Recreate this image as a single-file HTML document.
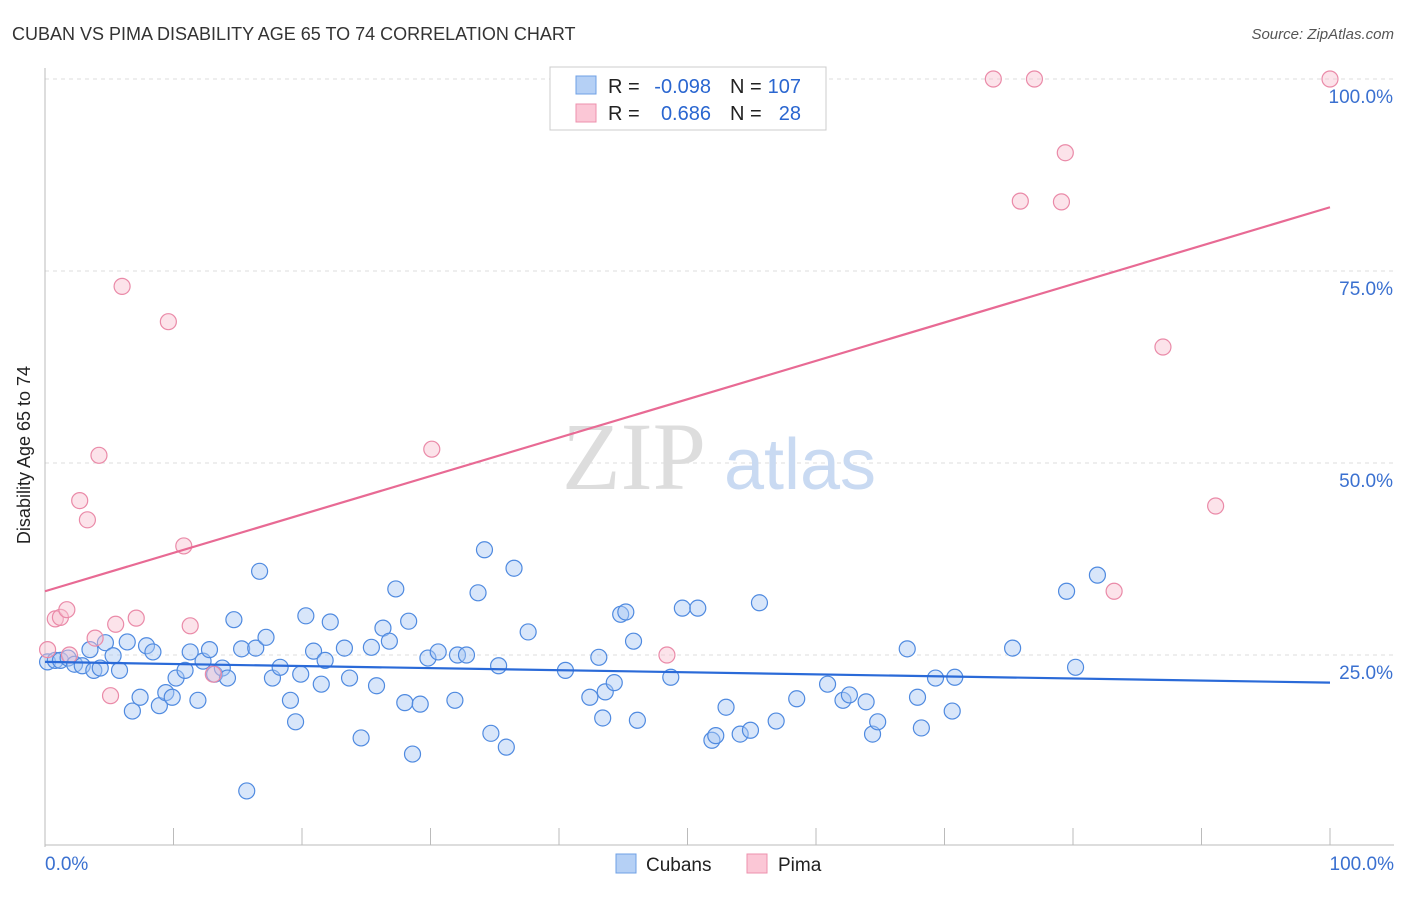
<!DOCTYPE html>
<html><head><meta charset="utf-8"><style>
body{margin:0;background:#fff;font-family:"Liberation Sans",sans-serif;}
</style></head><body>
<svg id="chart" width="1406" height="892" xmlns="http://www.w3.org/2000/svg">
<text x="12" y="40" font-size="18" fill="#333">CUBAN VS PIMA DISABILITY AGE 65 TO 74 CORRELATION CHART</text>
<text x="1394" y="39" font-size="15" fill="#555" font-style="italic" text-anchor="end">Source: ZipAtlas.com</text>
<g id="grid"></g>
<text x="634" y="489" font-size="96" font-family="Liberation Serif,serif" fill="#ddd" text-anchor="middle">ZIP</text>
<text x="800" y="489" font-size="72" fill="#c9daf2" text-anchor="middle">atlas</text>
<text x="30" y="455" font-size="18" fill="#222" text-anchor="middle" transform="rotate(-90 30 455)">Disability Age 65 to 74</text>
<g id="marks"></g>
<g>
<rect x="550" y="67" width="276" height="63" fill="#fff" stroke="#ccc"/>
<rect x="576" y="76" width="20" height="18" fill="#b5d0f5" stroke="#6fa0e5"/>
<rect x="576" y="104" width="20" height="18" fill="#fbc7d6" stroke="#ee90ad"/>
<text x="608" y="93" font-size="20" fill="#222">R =</text>
<text x="711" y="93" font-size="20" fill="#2a66d0" text-anchor="end">-0.098</text>
<text x="730" y="93" font-size="20" fill="#222">N =</text>
<text x="801" y="93" font-size="20" fill="#2a66d0" text-anchor="end">107</text>
<text x="608" y="120" font-size="20" fill="#222">R =</text>
<text x="711" y="120" font-size="20" fill="#2a66d0" text-anchor="end">0.686</text>
<text x="730" y="120" font-size="20" fill="#222">N =</text>
<text x="801" y="120" font-size="20" fill="#2a66d0" text-anchor="end">28</text>
</g>
<g><rect x="616" y="854" width="20" height="19" fill="#b5d0f5" stroke="#6fa0e5"/><text x="646" y="871" font-size="19" fill="#222">Cubans</text></g>
<g><rect x="747" y="854" width="20" height="19" fill="#fbc7d6" stroke="#ee90ad"/><text x="778" y="871" font-size="19" fill="#222">Pima</text></g>
</svg>
<script>
const yTicks=[25,50,75,100];
const yTickLabels=["25.0%","50.0%","75.0%","100.0%"];
const xTickCount=10;
const blueX=[0.2,0.8,1.2,1.8,2.3,2.9,3.5,3.8,4.3,4.7,5.3,5.8,6.4,6.8,7.4,7.9,8.4,8.9,9.4,9.9,10.2,10.9,11.3,11.9,12.3,12.8,13.2,13.8,14.2,14.7,15.3,16.4,16.7,17.2,15.7,17.7,18.3,19.1,19.5,19.9,20.3,20.9,21.5,21.8,22.2,23.3,23.7,24.6,25.4,25.8,26.3,26.8,27.3,28.0,28.3,29.2,28.6,29.8,30.6,31.9,32.1,32.8,33.7,34.2,34.7,35.3,35.9,36.5,37.6,40.5,42.4,43.1,43.4,43.6,44.3,44.8,45.2,45.8,46.1,48.7,49.6,50.8,51.9,52.2,53.0,54.1,54.9,55.6,56.9,58.5,60.9,62.1,62.6,63.9,64.4,64.8,67.1,67.9,68.2,69.3,70.6,70.8,75.3,79.5,80.2,81.9];
const blueY=[24.1,24.3,24.3,24.6,23.8,23.6,25.7,23.0,23.3,26.6,24.9,23.0,26.7,17.7,19.5,26.2,25.4,18.4,20.1,19.5,22.0,23.0,25.4,19.1,24.2,25.7,22.5,23.3,22.0,29.6,25.8,25.9,35.9,27.3,7.3,22.0,23.4,19.1,16.3,22.5,30.1,25.5,21.2,24.3,29.3,25.9,22.0,14.2,26.0,21.0,28.5,26.8,33.6,18.8,29.4,18.6,12.1,24.6,25.4,19.1,25.0,25.0,33.1,38.7,14.8,23.6,13.0,36.3,28.0,23.0,19.5,24.7,16.8,20.2,21.4,30.3,30.6,26.8,16.5,22.1,31.1,31.1,13.9,14.5,18.2,14.7,15.2,31.8,16.4,19.3,21.2,19.1,19.8,18.9,14.7,16.3,25.8,19.5,15.5,22.0,17.7,22.1,25.9,33.3,23.4,35.4];
const pinkX=[0.8,1.2,1.7,2.7,3.3,3.9,4.2,5.1,5.5,6.0,7.1,9.6,10.8,11.3,13.1,30.1,48.4,73.8,75.9,77.0,79.1,79.4,83.2,87.0,91.1,100,0.2,1.9];
const pinkY=[29.7,29.9,30.9,45.1,42.6,27.2,51.0,19.7,29.0,73.0,29.8,68.4,39.2,28.8,22.5,51.8,25.0,100,84.1,100,84.0,90.4,33.3,65.1,44.4,100,25.7,25];
const blueTrend=[24.1,21.4];
const pinkTrend=[33.3,83.3];
const X0=45,X1=1330,Y0=847,Y100=79;
const sx=v=>X0+(X1-X0)*v/100;
const sy=v=>Y0-(Y0-Y100)*v/100;
const NS="http://www.w3.org/2000/svg";
const grid=document.getElementById('grid'),marks=document.getElementById('marks');
function mk(tag,attrs,parent){const e=document.createElementNS(NS,tag);for(const k in attrs)e.setAttribute(k,attrs[k]);parent.appendChild(e);return e;}
yTicks.forEach((t,i)=>{
 const l=mk('line',{x1:45,x2:1394,y1:sy(t),y2:sy(t),stroke:'#ddd','stroke-dasharray':'4,4'},grid);
 
 
 const tx=mk('text',{x:1393,y:sy(t)+24,'font-size':19,fill:'#3a70d0','text-anchor':'end'},grid);
 tx.textContent=yTickLabels[i];
 
 
});
const ya=mk('line',{x1:45,x2:45,y1:68,y2:847,stroke:'#bbb'},grid);


const xa=mk('line',{x1:45,x2:1394,y1:845,y2:845,stroke:'#bbb'},grid);


for(let i=0;i<=xTickCount;i++){const v=100*i/xTickCount;const t=mk('line',{x1:sx(v),x2:sx(v),y1:828,y2:845,stroke:'#bbb'},grid);
 
 }
[[0,"0.0%",'start',45],[100,"100.0%",'end',1394]].forEach(a=>{const t=mk('text',{x:a[3],y:870,'font-size':19,fill:'#3a70d0','text-anchor':a[2]},grid);t.textContent=a[1];
 
 });
function dots(xs,ys,fill,stroke,name){xs.forEach((x,i)=>{const c=mk('circle',{cx:sx(x),cy:sy(ys[i]),r:8,fill:fill,'fill-opacity':0.45,stroke:stroke,'stroke-width':1.2},marks);
 
 });}
dots(blueX,blueY,'#a9c8f3','#4f8ae0','cuban-point');
dots(pinkX,pinkY,'#f9c0d0','#ea8aa8','pima-point');
const bl=mk('line',{x1:sx(0),y1:sy(blueTrend[0]),x2:sx(100),y2:sy(blueTrend[1]),stroke:'#2a6ad8','stroke-width':2.2},marks);


const pl=mk('line',{x1:sx(0),y1:sy(pinkTrend[0]),x2:sx(100),y2:sy(pinkTrend[1]),stroke:'#e86a94','stroke-width':2.2},marks);


</script>
</body></html>
